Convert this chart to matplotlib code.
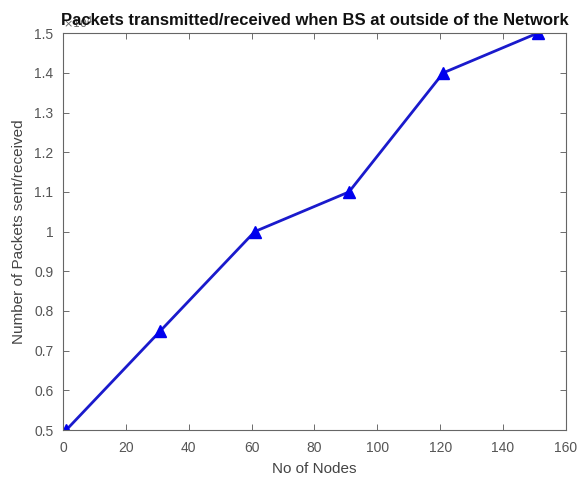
import matplotlib
matplotlib.use('Agg')
import matplotlib.pyplot as plt
from matplotlib.ticker import FormatStrFormatter

plt.rcParams['font.family'] = ['Liberation Sans', 'DejaVu Sans']

nodes = [1, 31, 61, 91, 121, 151]
packets = [5000, 7500, 10000, 11000, 14000, 15000]
x_ticks = [0, 20, 40, 60, 80, 100, 120, 140, 160]
y_ticks = [0.5, 0.6, 0.7, 0.8, 0.9, 1.0, 1.1, 1.2, 1.3, 1.4, 1.5]

fig = plt.figure(figsize=(5.78, 4.8), dpi=100)
ax = fig.add_axes([0.109, 0.104, 0.870, 0.827])

ax.plot(nodes, [p / 1e4 for p in packets], color='#1a1acc', linewidth=2,
        marker='^', markersize=8, markerfacecolor='#0000ee', markeredgecolor='#0000ee')

ax.set_xlim(0, 160)
ax.set_ylim(0.5, 1.5)
ax.set_xticks(x_ticks)
ax.set_yticks(y_ticks)
ax.yaxis.set_major_formatter(FormatStrFormatter('%g'))

# matlab style box + inward ticks
ax.tick_params(direction='in', top=True, right=True, length=4, width=0.6,
               colors='#555555', labelsize=10, labelcolor='#555555')
ax.tick_params(axis='x', pad=8)
ax.tick_params(axis='y', pad=7)
for s in ax.spines.values():
    s.set_color('#666666')
    s.set_linewidth(0.8)

ax.text(0.0, 1.005, r'$\times10^{4}$', transform=ax.transAxes, fontsize=8,
        color='#666666', ha='left', va='bottom')
ax.set_title('Packets transmitted/received when BS at outside of the Network',
             fontsize=12, fontweight='bold', pad=6, color='#111111')
ax.set_xlabel('No of Nodes', fontsize=11, color='#444444', labelpad=5)
ax.set_ylabel('Number of Packets sent/received', fontsize=11, color='#444444', labelpad=6)

fig.savefig('out.png', dpi=100)
